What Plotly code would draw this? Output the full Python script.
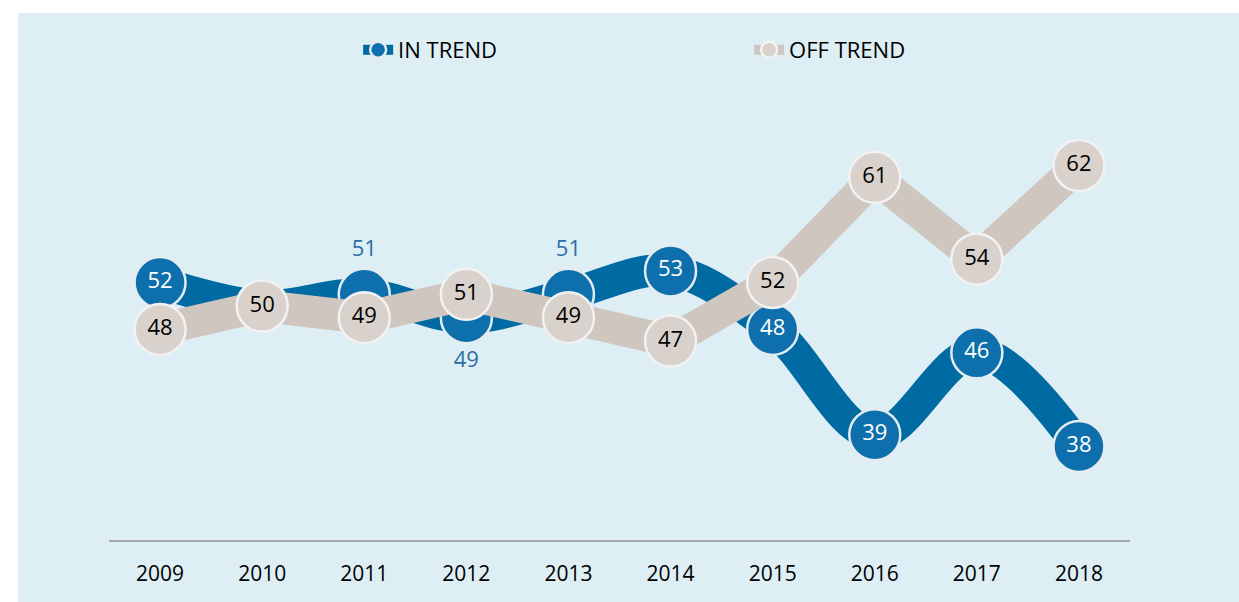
import plotly.graph_objects as go

years = ["2009", "2010", "2011", "2012", "2013", "2014", "2015", "2016", "2017", "2018"]
in_trend = [52, 50, 51, 49, 51, 53, 48, 39, 46, 38]
off_trend = [48, 50, 49, 51, 49, 47, 52, 61, 54, 62]
in_label_pos = ["middle center", "middle center", "top center", "bottom center", "top center",
                "middle center", "middle center", "middle center", "middle center", "middle center"]
in_label_col = ["white", "white", "#2D6EA8", "#2D6EA8", "#2D6EA8",
                "white", "white", "white", "white", "white"]

FONT = "Open Sans"
BLUE_LINE = "#006AA3"
BLUE_MK = "#0E6FAD"
BEIGE_LINE = "#CFC6BF"
BEIGE_MK = "#D9D1CB"
PANEL = "#DDEEF4"

MK = 51
LW = 32

fig = go.Figure()

fig.add_trace(go.Scatter(
    x=years, y=in_trend, name="IN TREND", mode="lines+markers",
    line=dict(color=BLUE_LINE, width=LW, shape="spline", smoothing=1.0),
    marker=dict(size=MK, color=BLUE_MK, line=dict(color="#E4ECF0", width=2.5)),
    hoverinfo="skip",
))
fig.add_trace(go.Scatter(
    x=years, y=in_trend, mode="markers+text", showlegend=False,
    text=[str(v) for v in in_trend], textposition=in_label_pos,
    textfont=dict(family=FONT, size=22, color=in_label_col),
    marker=dict(size=MK, color="rgba(0,0,0,0)"),
    hoverinfo="skip",
))
fig.add_trace(go.Scatter(
    x=years, y=off_trend, name="OFF TREND", mode="lines+markers",
    line=dict(color=BEIGE_LINE, width=LW),
    marker=dict(size=MK, color=BEIGE_MK, line=dict(color="#F2F2F2", width=2.5)),
    hoverinfo="skip",
))
fig.add_trace(go.Scatter(
    x=years, y=off_trend, mode="markers+text", showlegend=False,
    text=[str(v) for v in off_trend], textposition="middle center",
    textfont=dict(family=FONT, size=22, color="black"),
    marker=dict(size=MK, color="rgba(0,0,0,0)"),
    hoverinfo="skip",
))

# page pixel coords (body margin removed): plot area x 109..1130, y 72..540
W, H = 1239, 602
L, T = 109, 72
R = W - 1130
B = H - 540
pw, ph = W - L - R, H - T - B

def px_x(p):
    return (p - L) / pw

def px_y(p):
    return (H - B - p) / ph

fig.add_shape(type="rect", xref="paper", yref="paper",
              x0=px_x(18), x1=px_x(W + 20),
              y0=px_y(H + 20), y1=px_y(13),
              fillcolor=PANEL, line=dict(width=0), layer="below")

fig.update_layout(
    width=W, height=H,
    margin=dict(l=L, r=R, t=T, b=B),
    paper_bgcolor="white", plot_bgcolor="rgba(0,0,0,0)",
    font=dict(family=FONT, color="black"),
    showlegend=True,
    legend=dict(orientation="h", x=0.244, xanchor="left", y=px_y(50), yanchor="middle",
                font=dict(family=FONT, size=22, color="black"),
                entrywidth=346, entrywidthmode="pixels",
                bgcolor="rgba(0,0,0,0)"),
    xaxis=dict(type="category", range=[-0.5, 9.5], showgrid=False, zeroline=False,
               showline=True, linecolor="#A6A6A6", linewidth=1.5,
               ticks="outside", ticklen=14, tickcolor="rgba(0,0,0,0)",
               tickfont=dict(family=FONT, size=21, color="black"), fixedrange=True),
    yaxis=dict(range=[30, 70], visible=False, fixedrange=True),
)

fig.write_html(
    "out.html",
    config={"displayModeBar": False},
    post_script="document.body.style.margin='0';document.documentElement.style.overflow='hidden';",
)
